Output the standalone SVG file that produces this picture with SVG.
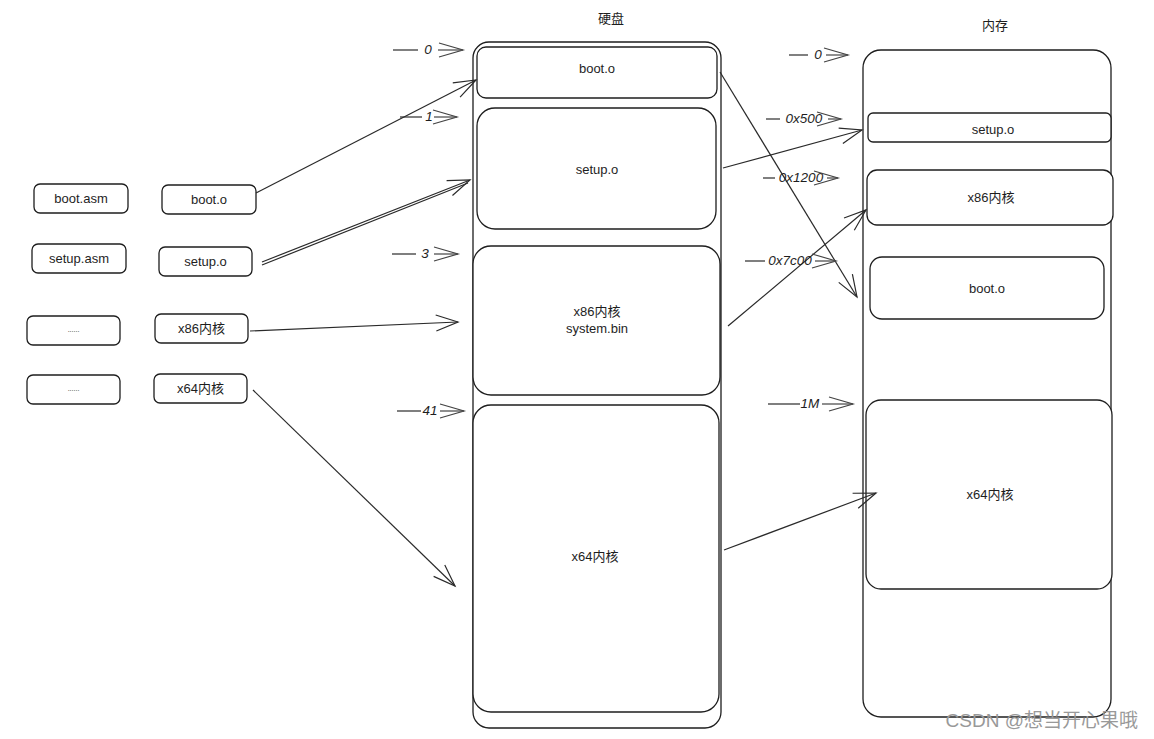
<svg xmlns="http://www.w3.org/2000/svg" width="1154" height="739" viewBox="0 0 1154 739">
<style>
.box{fill:#fff;stroke:#1e1e1e;stroke-width:1.3}
.t{font-family:"Liberation Sans","Noto Sans CJK SC",sans-serif;font-size:13px;fill:#1e1e1e;text-anchor:middle;dominant-baseline:central}
.lbl{font-family:"Liberation Sans","Noto Sans CJK SC",sans-serif;font-size:13.5px;font-style:italic;fill:#1e1e1e;text-anchor:middle;dominant-baseline:central}
.c{fill:none;stroke:#2a2a2a;stroke-width:1.2}
.a{fill:none;stroke:#2a2a2a;stroke-width:1.2;marker-end:url(#ah)}
.as{fill:none;stroke:#444;stroke-width:1.2;marker-end:url(#ah2)}
</style>
<defs>
<marker id="ah" markerUnits="userSpaceOnUse" viewBox="-24 -10 26 20" refX="0" refY="0" markerWidth="26" markerHeight="20" orient="auto" overflow="visible">
<path d="M-22,-8 L0,0 L-22,8" fill="none" stroke="#2a2a2a" stroke-width="1.2"/>
</marker>
<marker id="ah2" markerUnits="userSpaceOnUse" viewBox="-26 -10 28 20" refX="0" refY="0" markerWidth="28" markerHeight="20" orient="auto" overflow="visible">
<path d="M-24,-7 L0,0 L-24,7" fill="none" stroke="#444" stroke-width="1.2"/>
</marker>
</defs>
<rect width="1154" height="739" fill="#fff"/>

<text class="t" x="611" y="18">硬盘</text>
<text class="t" x="995" y="25">内存</text>

<g id="left-boot-asm"><rect class="box" x="34" y="184" width="94" height="29" rx="6"/><text class="t" x="81" y="198.5">boot.asm</text></g>
<g id="left-boot-o"><rect class="box" x="162" y="185" width="94" height="29" rx="6"/><text class="t" x="209" y="199.5">boot.o</text></g>
<g id="left-setup-asm"><rect class="box" x="32" y="244" width="94" height="29" rx="6"/><text class="t" x="79" y="258.5">setup.asm</text></g>
<g id="left-setup-o"><rect class="box" x="159" y="247" width="93" height="29" rx="6"/><text class="t" x="205.5" y="261.5">setup.o</text></g>
<g id="left-dots1"><rect class="box" x="27" y="316" width="93" height="29" rx="6"/><text class="t" x="73.5" y="329" style="font-size:7px">......</text></g>
<g id="left-x86"><rect class="box" x="155" y="314" width="93" height="29" rx="6"/><text class="t" x="201.5" y="328.5">x86内核</text></g>
<g id="left-dots2"><rect class="box" x="27" y="375" width="93" height="29" rx="6"/><text class="t" x="73.5" y="388" style="font-size:7px">......</text></g>
<g id="left-x64"><rect class="box" x="154" y="374" width="93" height="29" rx="6"/><text class="t" x="200.5" y="388.5">x64内核</text></g>

<g id="disk"><rect class="box" x="473" y="42" width="248" height="686" rx="16"/></g>
<g id="disk-boot"><rect class="box" x="477" y="47" width="240" height="51" rx="9"/><text class="t" x="597" y="68">boot.o</text></g>
<g id="disk-setup"><rect class="box" x="477" y="108" width="239" height="121" rx="18"/><text class="t" x="597" y="169">setup.o</text></g>
<g id="disk-x86"><rect class="box" x="473" y="246" width="247" height="149" rx="18"/><text class="t" x="597" y="311">x86内核</text><text class="t" x="597" y="328">system.bin</text></g>
<g id="disk-x64"><rect class="box" x="473" y="405" width="246" height="307" rx="18"/><text class="t" x="595" y="556">x64内核</text></g>

<g id="mem"><rect class="box" x="863" y="50" width="248" height="667" rx="18"/></g>
<g id="mem-setup"><rect class="box" x="868" y="113" width="243" height="29" rx="5"/><text class="t" x="993" y="129">setup.o</text></g>
<g id="mem-x86"><rect class="box" x="867" y="170" width="246" height="55" rx="10"/><text class="t" x="991" y="197">x86内核</text></g>
<g id="mem-boot"><rect class="box" x="870" y="257" width="234" height="62" rx="12"/><text class="t" x="987" y="288">boot.o</text></g>
<g id="mem-x64"><rect class="box" x="866" y="400" width="246" height="189" rx="15"/><text class="t" x="990" y="494">x64内核</text></g>

<g id="connectors">
<path class="a" d="M256,193 L476,80"/>
<path class="a" d="M262,262 L470,180"/>
<path class="c" d="M262,265 L468,183"/>
<path class="a" d="M250,331 L458,322"/>
<path class="a" d="M253,390 L455,586"/>
<path class="a" d="M720,72 L857,297"/>
<path class="a" d="M723,168 L862,130"/>
<path class="a" d="M728,326 L866,210"/>
<path class="a" d="M724,550 L876,493"/>

<path class="c" d="M393,50 L418,50"/><text class="lbl" x="428" y="49">0</text><path class="as" d="M438,50 L463,50"/>
<path class="c" d="M400,117 L422,117"/><text class="lbl" x="429" y="116">1</text><path class="as" d="M434,117 L457,117"/>
<path class="c" d="M392,254 L416,254"/><text class="lbl" x="425" y="253">3</text><path class="as" d="M434,254 L458,254"/>
<path class="c" d="M397,411 L421,411"/><text class="lbl" x="430" y="410">41</text><path class="as" d="M440,411 L464,411"/>

<path class="c" d="M789,55 L808,55"/><text class="lbl" x="818" y="54">0</text><path class="as" d="M826,55 L848,55"/>
<path class="c" d="M766,119 L780,119"/><text class="lbl" x="804" y="118">0x500</text><path class="as" d="M828,119 L841,119"/>
<path class="c" d="M763,178 L775,178"/><text class="lbl" x="801" y="177">0x1200</text><path class="as" d="M827,178 L838,178"/>
<path class="c" d="M745,261 L765,261"/><text class="lbl" x="790" y="260">0x7c00</text><path class="as" d="M815,261 L836,261"/>
<path class="c" d="M768,404 L800,404"/><text class="lbl" x="810" y="403">1M</text><path class="as" d="M822,404 L853,404"/>
</g>

<text x="1138" y="727" style="font-family:'Liberation Sans','Noto Sans CJK SC',sans-serif;font-size:19px;fill:#999;text-anchor:end">CSDN @想当开心果哦</text>
</svg>
